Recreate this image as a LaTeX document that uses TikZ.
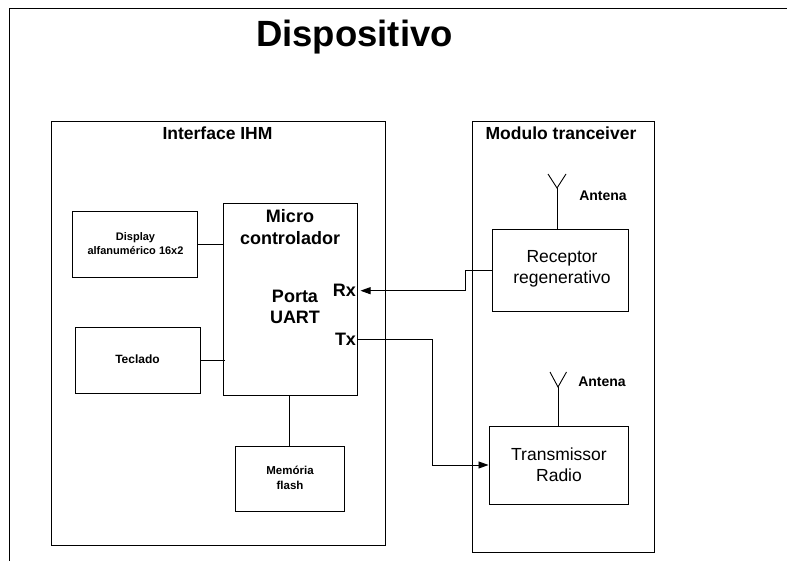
\documentclass[tikz,border=0pt]{standalone}
\usepackage{fontspec}
\setmainfont{Liberation Sans}
\usetikzlibrary{arrows.meta}
\begin{document}
\begin{tikzpicture}[x=1pt,y=-1pt,line width=0.9pt,
  blk/.style={draw,inner sep=0pt,line width=0.9pt},
  small/.style={font=\bfseries\fontsize{11}{13.5}\selectfont,align=center,inner sep=0pt},
  big/.style={font=\bfseries\fontsize{18}{21.3}\selectfont,align=center,inner sep=0pt},
  reg/.style={font=\fontsize{17.5}{20.5}\selectfont,align=center,inner sep=0pt},
  head/.style={font=\bfseries\fontsize{17.5}{19}\selectfont,inner sep=0pt,anchor=base},
  ant/.style={font=\bfseries\fontsize{14}{15}\selectfont,inner sep=0pt,anchor=base},
  arr/.style={-{Triangle[length=10pt,width=7pt]}}]
\useasboundingbox (0,0) rectangle (787,561);
\clip (0,0) rectangle (787,561);
\fill[white] (0,0) rectangle (787,561);
% outer frame (partly outside the picture)
\coordinate (fa) at (9,580);
\coordinate (fb) at (9,8);
\coordinate (fc) at (800,8);
\draw (fa) -- (fb) -- (fc);
\node[font=\bfseries\fontsize{36.5}{40}\selectfont,inner sep=0pt,anchor=base] (title) at (354.5,46.7) {Dispositivo};
% containers
\node[blk,minimum width=334pt,minimum height=424pt] (ihm) at (218,333) {};
\node[blk,minimum width=182pt,minimum height=431pt] (trx) at (563,336.5) {};
\node[head] (ihml) at (217.5,139.5) {Interface IHM};
\node[head] (trxl) at (561,139.5) {Modulo tranceiver};
% left blocks
\node[blk,minimum width=125pt,minimum height=66pt] (disp) at (134.8,244) {};
\node[small] (dispt) at (135.5,243.6) {Display\\alfanumérico 16x2};
\node[blk,minimum width=124.3pt,minimum height=66pt] (tec) at (137.9,360) {};
\node[small,font=\bfseries\fontsize{12}{13.5}\selectfont,anchor=base] (tect) at (137.5,363.3) {Teclado};
\node[blk,minimum width=134pt,minimum height=192pt] (mcu) at (290,299) {};
\node[big] (mcut) at (290,227.2) {Micro\\controlador};
\node[big] (uart) at (295,307.2) {Porta\\UART};
\node[big,anchor=base] (rx) at (344.5,296.7) {Rx};
\node[big,anchor=base] (tx) at (345.5,345) {Tx};
\node[blk,minimum width=109pt,minimum height=65pt] (mem) at (289.5,478.5) {};
\node[small,font=\bfseries\fontsize{11.5}{15}\selectfont] (memt) at (290,477.5) {Memória\\flash};
% right blocks
\node[blk,minimum width=136.4pt,minimum height=82pt] (rec) at (560.5,270) {};
\node[reg] (rect) at (562,268.9) {Receptor\\regenerativo};
\node[blk,minimum width=139.7pt,minimum height=78pt] (tra) at (558.8,465) {};
\node[reg] (trat) at (559,464.5) {Transmissor\\Radio};
% antennas
\coordinate (a1) at (557,188);
\coordinate (a1l) at (548,174);
\coordinate (a1r) at (566,174);
\draw (a1 |- rec.north) -- (a1);
\draw (a1l) -- (a1) -- (a1r);
\node[ant] (ant1) at (603,201) {Antena};
\coordinate (a2) at (558,387);
\coordinate (a2l) at (550,372);
\coordinate (a2r) at (566.5,372);
\draw (a2 |- tra.north) -- (a2);
\draw (a2l) -- (a2) -- (a2r);
\node[ant] (ant2) at (602,386) {Antena};
% connectors
\coordinate (dispend) at (224,244);
\draw (disp.east |- dispend) -- (dispend);
\coordinate (tecend) at (224.5,360);
\draw (tec.east |- tecend) -- (tecend);
\draw (mcu.south -| mem.north) -- (mem.north);
\coordinate (rxtip) at (360.5,290.7);
\coordinate (rxb) at (465,290.7);
\draw[arr] (rec.west) -| (rxb) -- (rxtip);
\coordinate (txs) at (357,339.5);
\coordinate (txb) at (432,339.5);
\draw[arr] (txs) -- (txb) |- (tra.west);
\end{tikzpicture}
\end{document}
